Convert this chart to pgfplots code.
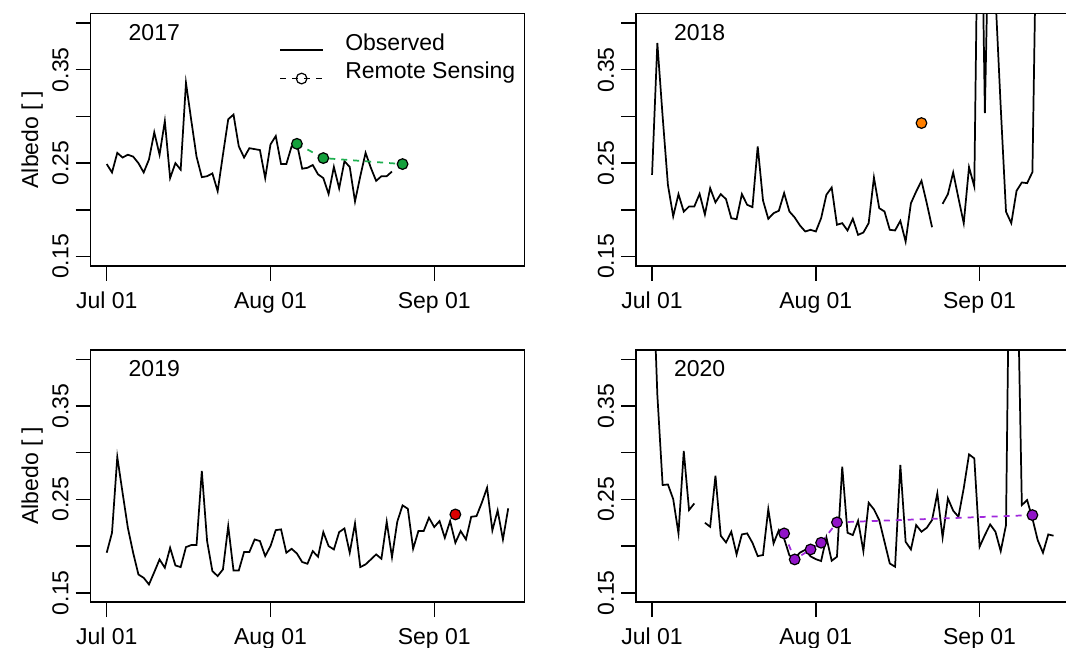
\documentclass[border=0pt]{standalone}
\usepackage{fontspec}
\setmainfont{Liberation Sans}
\usepackage{pgfplots}
\pgfplotsset{compat=1.18}
\usepackage{pgfplotstable}

\definecolor{GreenF}{RGB}{20,160,60}
\definecolor{GreenL}{RGB}{30,175,80}
\definecolor{OrangeF}{RGB}{255,127,0}
\definecolor{RedF}{RGB}{220,0,0}
\definecolor{PurpleF}{RGB}{145,20,200}
\definecolor{PurpleL}{RGB}{160,40,220}

% Observed albedo, day 0 = Jul 01
\pgfplotstableread{
d v
0 0.249
1 0.240
2 0.261
3 0.256
4 0.259
5 0.257
6 0.250
7 0.240
8 0.254
9 0.283
10 0.259
11 0.295
12 0.234
13 0.250
14 0.243
15 0.336
16 0.296
17 0.257
18 0.235
19 0.236
20 0.239
21 0.220
22 0.259
23 0.297
24 0.302
25 0.268
26 0.256
27 0.266
28 0.265
29 0.264
30 0.234
31 0.270
32 0.279
33 0.249
34 0.249
35 0.268
36 0.271
37 0.244
38 0.245
39 0.248
40 0.238
41 0.234
42 0.217
43 0.246
44 0.223
45 0.252
46 0.246
47 0.209
48 0.236
49 0.261
50 0.245
51 0.231
52 0.236
53 0.236
54 0.241
}\obsA

\pgfplotstableread{
d v
0 0.2375
1 0.3786
2 0.300
3 0.2268
4 0.193
5 0.2168
6 0.198
7 0.2036
8 0.2036
9 0.2171
10 0.195
11 0.2232
12 0.208
13 0.2168
14 0.2114
15 0.191
16 0.190
17 0.2168
18 0.2054
19 0.2029
20 0.2679
21 0.210
22 0.1904
23 0.1964
24 0.199
25 0.218
26 0.1982
27 0.1918
28 0.1832
29 0.1768
30 0.1786
31 0.1768
32 0.191
33 0.2161
34 0.2239
35 0.184
36 0.1857
37 0.1779
38 0.1904
39 0.1732
40 0.1757
41 0.1857
42 0.2346
43 0.2018
44 0.1982
45 0.1786
46 0.1779
47 0.1882
48 0.166
49 0.2071
50 0.2196
51 0.2311
52 0.2071
53 0.1814
54 nan
55 0.2064
56 0.2168
57 0.2400
58 0.2125
59 0.1857
60 0.2457
61 0.2250
62 0.68
63 0.3036
64 0.59
65 0.43
66 0.31
67 0.198
68 0.1857
69 0.2204
70 0.2293
71 0.2286
72 0.2404
73 0.60
74 0.70
75 0.70
76 0.70
}\obsB

\pgfplotstableread{
d v
0 0.1929
1 0.2143
2 0.2954
3 0.2571
4 0.2196
5 0.1929
6 0.1696
7 0.1660
8 0.1589
9 0.1721
10 0.1857
11 0.1768
12 0.1982
13 0.1793
14 0.1775
15 0.1989
16 0.2011
17 0.2011
18 0.2804
19 0.2054
20 0.1732
21 0.1679
22 0.1750
23 0.2214
24 0.1739
25 0.1739
26 0.1936
27 0.1936
28 0.2071
29 0.2054
30 0.1893
31 0.2000
32 0.2171
33 0.2179
34 0.1929
35 0.1971
36 0.1921
37 0.1829
38 0.1811
39 0.1946
40 0.1886
41 0.2150
42 0.2000
43 0.1964
44 0.2150
45 0.2189
46 0.1929
47 0.2243
48 0.1775
49 0.1804
50 0.1857
51 0.1911
52 0.1864
53 0.2261
54 0.1882
55 0.2261
56 0.2436
57 0.2400
58 0.1971
59 0.2161
60 0.2161
61 0.2304
62 0.2204
63 0.2268
64 0.2089
65 0.2268
66 0.2036
67 0.2161
68 0.2071
69 0.2314
70 0.2321
71 0.2464
72 0.2625
73 0.2168
74 0.2382
75 0.2071
76 0.2404
}\obsC

\pgfplotstableread{
d v
0 0.52
1 0.362
2 0.2654
3 0.2660
4 0.2504
5 0.2136
6 0.3018
7 0.2386
8 0.2457
9 nan
10 0.2250
11 0.2207
12 0.2754
13 0.2111
14 0.2039
15 0.2154
16 0.1911
17 0.2125
18 0.2136
19 0.2036
20 0.1893
21 0.1904
22 0.2396
23 0.2029
24 0.2171
25 0.2080
26 0.1900
27 0.1870
28 0.1930
29 0.1960
30 0.1890
31 0.1860
32 0.1840
33 0.2093
34 0.1843
35 0.1886
36 0.2850
37 0.2143
38 0.2118
39 0.2271
40 0.1946
41 0.2464
42 0.2393
43 0.2279
44 0.2046
45 0.1814
46 0.1779
47 0.2868
48 0.2046
49 0.1964
50 0.2225
51 0.2154
52 0.2196
53 0.2279
54 0.2564
55 0.2093
56 0.2511
57 0.2379
58 0.2314
59 0.2620
60 0.2982
61 0.2939
62 0.1993
63 0.2118
64 0.2232
65 0.2154
66 0.1946
67 0.2225
68 0.70
69 0.55
70 0.2439
71 0.2493
72 0.2296
73 0.2064
74 0.1929
75 0.2125
76 0.2111
}\obsD

\newcommand{\fs}{\fontsize{17.25}{20}\selectfont}

\pgfplotsset{
  panel/.style={
    scale only axis,
    width=325.2pt, height=189.1pt,
    xmin=-3.04, xmax=79.04, ymin=0.14, ymax=0.41,
    axis line style={line width=1.1pt},
    every tick/.style={black, line width=1.1pt},
    tick align=outside,
    major tick length=11.25pt,
    xtick pos=bottom, ytick pos=left,
    xtick={0,31,62},
    xticklabels={Jul 01, Aug 01, Sep 01},
    ytick={0.15,0.20,0.25,0.30,0.35,0.40},
    yticklabels={0.15,,0.25,,0.35,},
    /pgf/number format/assume math mode=true,
    tick label style={font=\fs},
    xticklabel style={anchor=base, inner sep=0pt},
    xticklabel shift=20.6pt,
    yticklabel style={rotate=90, anchor=base, inner sep=0pt},
    yticklabel shift=5.4pt,
    every axis y label/.style={at={(axis description cs:-0.135,0.5)}, rotate=90, anchor=center, font=\fs},
    unbounded coords=jump,
    clip=true,
  },
  obs/.style={black, line width=1.3pt, no markers},
  rs/.style={line width=1.3pt, dash pattern=on 4.5pt off 4.5pt, mark=*, mark size=4pt},
}

\begin{document}
\begin{tikzpicture}[font=\fs]
\useasboundingbox (0,0) rectangle (799.5pt,486pt);
\clip (0,0) rectangle (799.5pt,486pt);

% 2017
\begin{axis}[panel, at={(68pt,475.7pt)}, anchor=north west, ylabel={Albedo [ ]},
  legend style={draw=none, fill=none, font=\fs, inner sep=0pt,
    at={(axis description cs:0.435,0.9227)}, anchor=north west,
    nodes={inner sep=0pt, text height=12.6pt, text depth=3.6pt, anchor=base west},
    row sep=5pt},
  legend cell align=left,
  legend image code/.code={
    \draw[mark repeat=2,mark phase=2,#1] plot coordinates {(0pt,0pt) (15.9pt,0pt) (31.8pt,0pt)};
    \path (48pt,0pt);
  }]
\addlegendimage{black, line width=1.3pt}
\addlegendentry{Observed}
\addlegendimage{black, line width=1.3pt, dash pattern=on 4.5pt off 4.5pt, mark=o, mark size=4pt, mark options={solid, line width=0.9pt}}
\addlegendentry{Remote Sensing}
\addplot[obs] table[x=d, y=v] {\obsA};
\addplot[rs, draw=GreenL, mark options={solid, draw=black, line width=0.9pt, fill=GreenF}] coordinates {(36,0.2707) (41,0.2554) (56,0.2490)};
\node[font=\fs] at (axis cs:9,0.39) {2017};
\end{axis}

% 2018
\begin{axis}[panel, at={(477pt,475.7pt)}, anchor=north west]
\addplot[obs] table[x=d, y=v] {\obsB};
\addplot[only marks, mark=*, mark size=4pt, mark options={solid, draw=black, line width=0.9pt, fill=OrangeF}] coordinates {(51,0.2929)};
\node[font=\fs] at (axis cs:9,0.39) {2018};
\end{axis}

% 2019
\begin{axis}[panel, at={(68pt,223.5pt)}, anchor=north west, ylabel={Albedo [ ]}]
\addplot[obs] table[x=d, y=v] {\obsC};
\addplot[only marks, mark=*, mark size=4pt, mark options={solid, draw=black, line width=0.9pt, fill=RedF}] coordinates {(66,0.2339)};
\node[font=\fs] at (axis cs:9,0.39) {2019};
\end{axis}

% 2020
\begin{axis}[panel, at={(477pt,223.5pt)}, anchor=north west]
\addplot[obs] table[x=d, y=v] {\obsD};
\addplot[rs, draw=PurpleL, mark options={solid, draw=black, line width=0.9pt, fill=PurpleF}] coordinates {(25,0.2136) (27,0.1857) (30,0.1964) (32,0.2036) (35,0.2254) (72,0.2332)};
\node[font=\fs] at (axis cs:9,0.39) {2020};
\end{axis}
\end{tikzpicture}
\end{document}
